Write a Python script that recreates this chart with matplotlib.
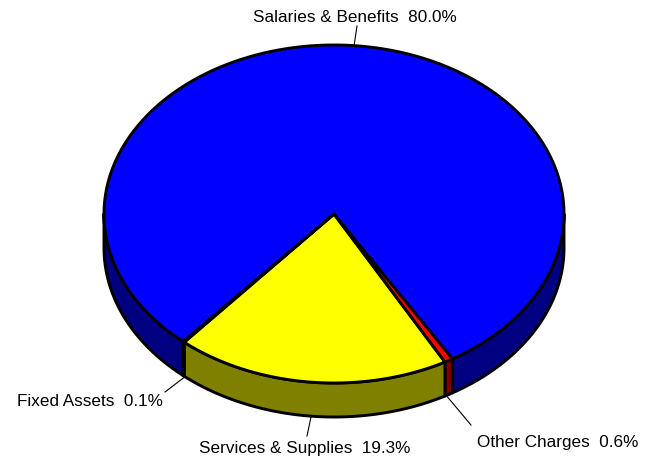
import numpy as np
import matplotlib
matplotlib.use("Agg")
import matplotlib.pyplot as plt

# clockwise from the start angle
labels = ["Salaries & Benefits", "Other Charges", "Services & Supplies", "Fixed Assets"]
shares = [80.0, 0.6, 19.3, 0.1]
top_colors = ["#0000ff", "#ff0000", "#ffff00", "#00ffff"]
side_colors = ["#000080", "#800000", "#808000", "#008080"]

CX, CY = 334, 214
RX, RY = 230, 169
DEPTH = 34
START = 229.0
LW = 2.1

plt.rcParams["font.family"] = ["Liberation Sans", "DejaVu Sans"]
fig = plt.figure(figsize=(6.48, 4.59), dpi=100)
ax = fig.add_axes([0, 0, 1, 1])
ax.set_xlim(0, 648)
ax.set_ylim(459, 0)
ax.axis("off")


def rim(a0, a1, n=200):
    t = np.radians(np.linspace(a0, a1, n))
    return CX + RX * np.cos(t), CY - RY * np.sin(t)


total = sum(shares)
edges = [START]
for v in shares:
    edges.append(edges[-1] - 360 * v / total)

# side wall, only the front half of the rim shows (180..360 deg)
for i, c in enumerate(side_colors):
    a0, a1 = edges[i + 1], edges[i]
    for shift in (0, 360, -360):
        lo, hi = max(a0 + shift, 180), min(a1 + shift, 360)
        if lo < hi:
            x, y = rim(lo, hi)
            xs = np.r_[x, x[::-1]]
            ys = np.r_[y, y[::-1] + DEPTH]
            ax.fill(xs, ys, facecolor=c, edgecolor="black", lw=LW, joinstyle="round", zorder=1)

# top face
for i, c in enumerate(top_colors):
    x, y = rim(edges[i + 1], edges[i], 400)
    ax.fill(np.r_[CX, x], np.r_[CY, y], facecolor=c, edgecolor="black", lw=LW,
            joinstyle="round", zorder=2 if shares[i] > 1 else 3)

# leader lines and labels
leaders = [((354, 46), (357, 26)), ((445, 394), (471, 425)), ((311, 417), (307, 436)), ((186, 376), (165, 392))]
spots = [(355, 17.5, "center"), (477, 443, "left"), (305, 448.5, "center"), (17, 401.5, "left")]
for lab, v, (p, q), (tx, ty, ha) in zip(labels, shares, leaders, spots):
    ax.plot([p[0], q[0]], [p[1], q[1]], color="black", lw=0.8, zorder=0)
    ax.text(tx, ty, f"{lab}  {v:.1f}%", ha=ha, va="center", fontsize=12.3, color="black")

fig.savefig("out.png", dpi=100)
